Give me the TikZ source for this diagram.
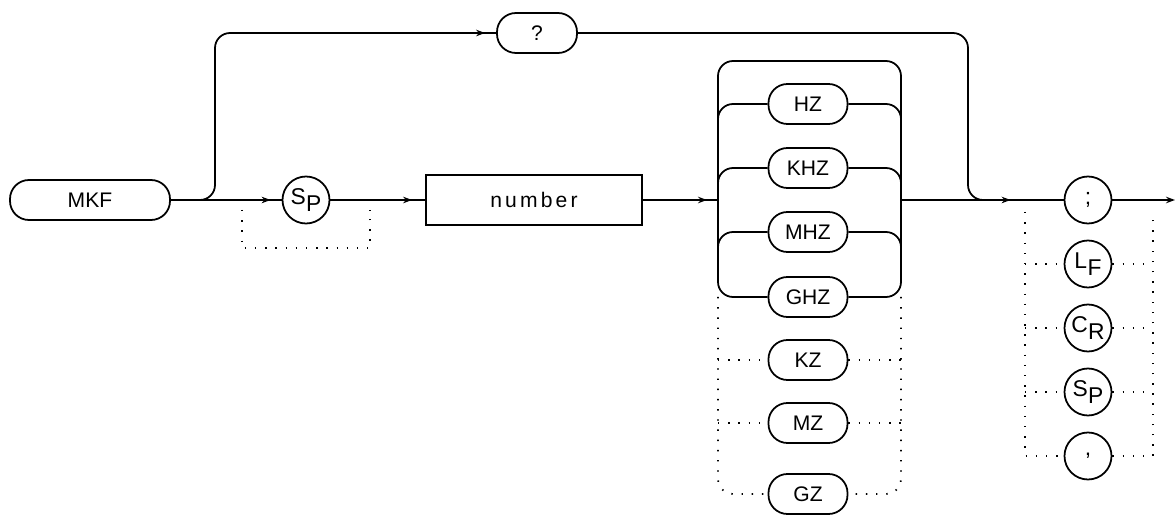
\documentclass[tikz,border=0pt]{standalone}
\usepackage{fontspec}
\setmainfont{Liberation Sans}
\usetikzlibrary{arrows.meta,decorations.markings,calc}
\newcommand{\lowpair}[2]{#1\kern0.02em\raisebox{-0.55ex}{#2}}

\begin{document}
\begin{tikzpicture}[x=0.2mm, y=0.2mm, line width=1pt,
    pill/.style={draw, fill=white, rounded corners=3.8mm, minimum height=8mm, inner sep=1pt, font=\fontsize{12}{14}\selectfont},
    ring/.style={draw, fill=white, circle, minimum size=9.4mm, inner sep=0pt, font=\fontsize{13}{15}\selectfont},
    box/.style={draw, fill=white, minimum width=43.2mm, minimum height=10mm, font=\fontsize{12}{14}\selectfont},
    dots/.style={dash pattern=on 0.8pt off 5pt},
    tipat/.style={postaction={decorate, decoration={markings, mark=at position #1 with {\arrow{Stealth[length=1.8mm, width=1.3mm]}}}}}]
  \useasboundingbox (0,0) rectangle (1176,-515);
  % nodes on the main line
  \node[pill, minimum width=32mm] (MKF) at (90,-200) {MKF};
  \node[pill, minimum width=16mm] (ask) at (537,-33) {?};
  \node[ring] (SP1) at (306,-200) {\lowpair{S}{P}};
  \node[box] (num) at (534,-200) {\addfontfeature{LetterSpace=15}number};
  % units
  \foreach \u/\y in {HZ/104,KHZ/168,MHZ/232,GHZ/297,KZ/360,MZ/423,GZ/494}
    \node[pill, minimum width=15.8mm] (\u) at (808,-\y) {\u};
  % terminators
  \node[ring] (semi) at (1088,-200) {;};
  \foreach \t/\y/\a/\b in {LF/264/L/F, CR/328/C/R, SP2/392/S/P}
    \node[ring] (\t) at (1088,-\y) {\lowpair{\a}{\b}};
  \node[ring] (comma) at (1088,-456) {,};
  % corners and free ends
  \coordinate (topA) at (215,-33);
  \coordinate (joinB) at (968,-200);
  \coordinate (mergeB) at (990,-200);
  \coordinate (gTL) at (718,-61);
  \coordinate (gTR) at (901,-61);
  \coordinate (sL) at (242,-210);
  \coordinate (sB) at (242,-248);
  \coordinate (sR) at (370,-210);
  \coordinate (tL) at (1025,-212);
  \coordinate (tR) at (1153,-212);
  \coordinate (fin) at (1175,-200);
  % main line and query branch
  \draw[tipat=-2.2mm] (MKF.east) -- (SP1.west);
  \draw[rounded corners=3mm, tipat=-2.2mm] (MKF.east) -| (topA) -- (ask.west);
  \draw[rounded corners=3mm] (ask.east) -| (joinB) -- (mergeB);
  \draw[dots] (sL) -- (sB) -| (sR);
  \draw[tipat=-2.6mm] (SP1.east) -- (num.west);
  \draw[tipat=-2.2mm] (num.east) -- (num.east -| gTL);
  % unit loop
  \draw[rounded corners=3mm] (GHZ.west) -| (gTL) -- (gTR) |- (GHZ.east);
  \foreach \u in {HZ,KHZ,MHZ} {
    \draw[rounded corners=3mm] (\u.west) -| ([yshift=-4mm]\u.west -| gTL);
    \draw[rounded corners=3mm] (\u.east) -| ([yshift=-4mm]\u.east -| gTR);
  }
  \draw[dots, rounded corners=3mm] (GHZ.west -| gTL) |- (GZ.west);
  \draw[dots, rounded corners=3mm] (GHZ.east -| gTR) |- (GZ.east);
  \foreach \u in {KZ,MZ} {
    \draw[dots] (\u.west -| gTL) -- (\u.west);
    \draw[dots] (\u.east) -- (\u.east -| gTR);
  }
  % to the terminators
  \draw[tipat=-10.6mm] (semi.west -| gTR) -- (semi.west);
  \draw[-{Stealth[length=1.8mm, width=1.3mm]}] (semi.east) -- (fin);
  \draw[dots] (tL) |- (comma.west);
  \draw[dots] (comma.east) -| (tR);
  \foreach \t in {LF,CR,SP2} {
    \draw[dots] (\t.west -| tL) -- (\t.west);
    \draw[dots] (\t.east) -- (\t.east -| tR);
  }
\end{tikzpicture}
\end{document}
